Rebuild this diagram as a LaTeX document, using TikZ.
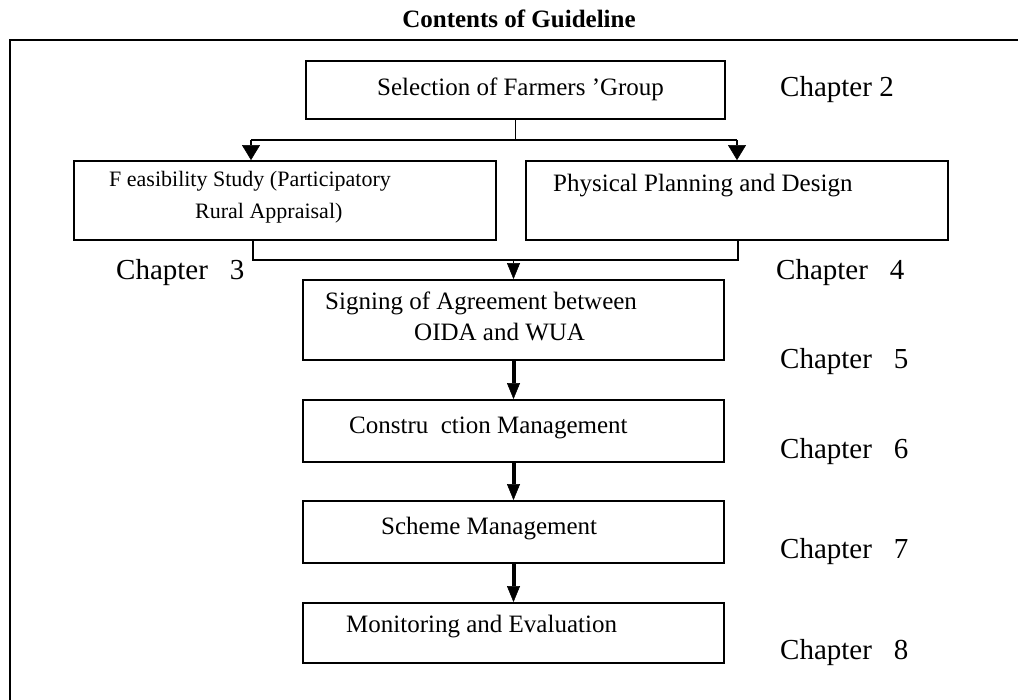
\documentclass[tikz,border=0pt]{standalone}
\usepackage{fontspec}
\setmainfont{Liberation Serif}
\usetikzlibrary{arrows.meta,calc}
\begin{document}
\begin{tikzpicture}[x=1pt,y=-1pt,
  box/.style={draw,line width=1.8pt,inner sep=0pt,rectangle},
  boxtxt/.style={anchor=west,inner sep=0pt,font=\fontsize{25}{30}\selectfont},
  smalltxt/.style={anchor=west,inner sep=0pt,font=\fontsize{22}{26}\selectfont},
  chap/.style={anchor=west,inner sep=0pt,font=\fontsize{29}{34}\selectfont},
  conn/.style={line width=1.8pt},
  arrowthin/.style={line width=1.8pt,-{Triangle[width=18pt,length=15pt,line width=0.5pt]}},
  arrowmid/.style={line width=1.8pt,-{Triangle[width=13pt,length=16pt,line width=0.5pt]}},
  arrowthick/.style={line width=4pt,-{Triangle[width=13pt,length=16pt,line width=0.5pt]}},
  frame/.style={line width=2.5pt}]
\useasboundingbox (0,0) rectangle (1018,700);

% title and outer frame
\node[inner sep=0pt,font=\fontsize{25}{30}\selectfont\bfseries] (title) at (519,19) {Contents of Guideline};
\draw[frame] (1018,40) -- (10,40) -- (10,700);

% boxes
\node[box,minimum width=419pt,minimum height=58pt] (sel) at (515.5,90) {};
\node[box,minimum width=422pt,minimum height=79pt] (feas) at (285,200.5) {};
\node[box,minimum width=422pt,minimum height=79pt] (phys) at (737,200.5) {};
\node[box,minimum width=421pt,minimum height=80pt] (sign) at (513.5,320) {};
\node[box,minimum width=421pt,minimum height=62pt] (cons) at (513.5,431) {};
\node[box,minimum width=421pt,minimum height=62pt] (sch) at (513.5,532) {};
\node[box,minimum width=421pt,minimum height=60pt] (mon) at (513.5,633) {};

% box texts
\node[boxtxt] (selt) at (377,89) {Selection of Farmers ’Group};
\node[smalltxt] (feast1) at (109,181) {F easibility Study (Participatory};
\node[smalltxt] (feast2) at (195,213) {Rural Appraisal)};
\node[boxtxt] (physt) at (553,186) {Physical Planning and Design};
\node[boxtxt] (signt1) at (325,303) {Signing of Agreement between};
\node[boxtxt] (signt2) at (414,332) {OIDA and WUA};
\node[boxtxt] (const) at (349,428) {Constru~~ction Management};
\node[boxtxt] (scht) at (381,529) {Scheme Management};
\node[boxtxt] (mont) at (346,627) {Monitoring and Evaluation};

% chapter labels
\node[chap] (c2) at (780,90) {Chapter 2};
\node[chap] (c3) at (116,273) {Chapter~~~3};
\node[chap] (c4) at (776,273) {Chapter~~~4};
\node[chap] (c5) at (780,362) {Chapter~~~5};
\node[chap] (c6) at (780,452) {Chapter~~~6};
\node[chap] (c7) at (780,552) {Chapter~~~7};
\node[chap] (c8) at (780,653) {Chapter~~~8};

% connectors
\coordinate (row1) at (0,140);
\coordinate (fa) at (251,140);
\coordinate (pa) at (737,140);
\draw[conn] (sel.south) -- (sel.south |- row1);
\draw[conn] (fa) -- (pa);
\draw[arrowthin] (fa) -- (fa |- feas.north);
\draw[arrowthin] (pa) -- (pa |- phys.north);

\coordinate (row2) at (0,260);
\coordinate (fb) at (253,260);
\coordinate (pb) at (738,260);
\draw[conn] (fb |- feas.south) -- (fb) -- (pb) -- (pb |- phys.south);
\draw[arrowmid] (sign.north |- row2) -- (sign.north);

\draw[arrowthick] (sign.south) -- (cons.north);
\draw[arrowthick] (cons.south) -- (sch.north);
\draw[arrowthick] (sch.south) -- (mon.north);
\end{tikzpicture}
\end{document}
